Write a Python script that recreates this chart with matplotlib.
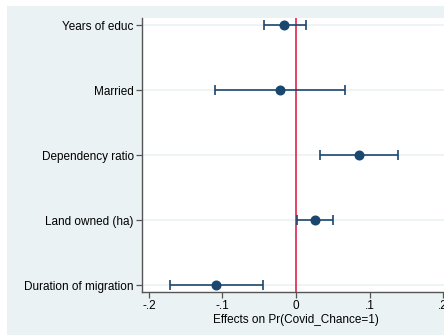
import numpy as np
import matplotlib
matplotlib.use("Agg")
from matplotlib import pyplot as plt
from matplotlib.patches import Rectangle

plt.rcParams['font.family'] = ['Liberation Sans', 'DejaVu Sans']

# marginal effects with 95% confidence intervals
labels = ["Years of educ", "Married", "Dependency ratio",
          "Land owned (ha)", "Duration of migration"]
effects = [-0.016, -0.022, 0.086, 0.026, -0.109]
ci_low = [-0.044, -0.110, 0.033, 0.001, -0.171]
ci_high = [0.014, 0.067, 0.139, 0.050, -0.045]

xticks = [-0.2, -0.1, 0, 0.1, 0.2]
xticklabels = ["-.2", "-.1", "0", ".1", ".2"]

W, H = 444, 335
fig = plt.figure(figsize=(W / 100, H / 100), dpi=100)
fig.patch.set_facecolor("white")

# stata-style graph region
bg = "#EAF2F3"
fig.add_artist(Rectangle((7 / W, 0), 1.0, 1 - 6 / H, transform=fig.transFigure,
                         facecolor=bg, edgecolor="none", zorder=-10))

ax = fig.add_axes([142 / W, 1 - 292 / H, (450 - 142) / W, (292 - 18) / H])
ax.set_facecolor("white")
ax.set_zorder(1)

y = np.arange(len(labels))
navy = "#1A476F"
for yi in y:
    ax.axhline(yi, color="#EBF1F3", lw=1.2, zorder=1)

ax.axvline(0, color="#E0103A", lw=1.1, zorder=2)

err = [np.array(effects) - np.array(ci_low), np.array(ci_high) - np.array(effects)]
ax.errorbar(effects, y, xerr=err, fmt="o", color=navy, ms=6.2, ecolor=navy,
            elinewidth=1.2, capsize=3.5, capthick=1.2, zorder=3)

ax.set_ylim(len(labels) - 1 + 0.1, -0.11)
ax.set_xlim(-0.2095, 0.2095)
ax.set_yticks(y)
ax.set_yticklabels(labels, fontsize=8.5)
ax.set_xticks(xticks)
ax.set_xticklabels(xticklabels, fontsize=8.5)
ax.set_xlabel("Effects on Pr(Covid_Chance=1)", fontsize=8.5, labelpad=1)

for s in ["top", "right"]:
    ax.spines[s].set_visible(False)
for s in ["left", "bottom"]:
    ax.spines[s].set_color("#555555")
    ax.spines[s].set_linewidth(1.0)
ax.tick_params(axis="both", length=4, width=0.9, color="#555555", pad=2)

fig.savefig("out.png", dpi=100, facecolor=fig.get_facecolor())
